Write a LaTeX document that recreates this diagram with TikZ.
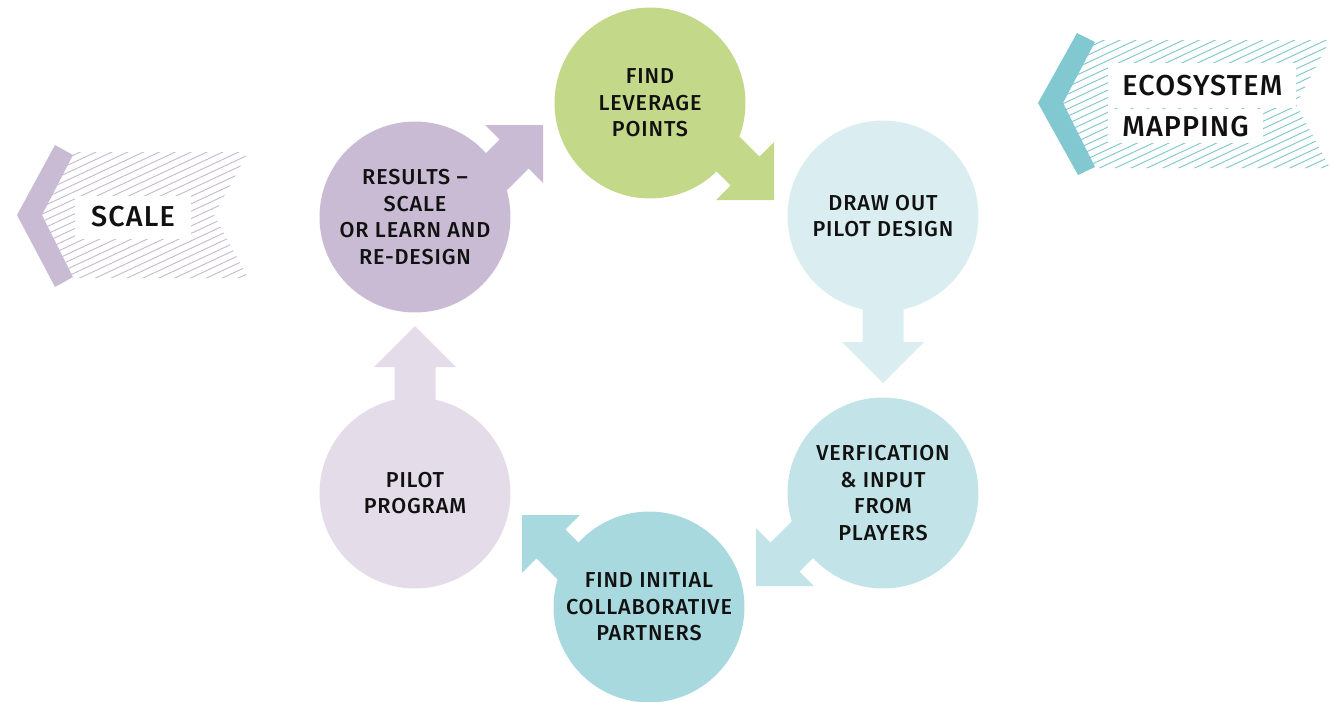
\documentclass[tikz,border=0pt]{standalone}
\usepackage{fontspec}
\setmainfont{Fira Sans}[UprightFont=* Medium, LetterSpace=4]
\usepackage{tikz}
\definecolor{resultpurple}{HTML}{C9BBD4}
\definecolor{levergreen}{HTML}{C4D88A}
\definecolor{designblue}{HTML}{DAEDF1}
\definecolor{verifyblue}{HTML}{C2E3E8}
\definecolor{partnerteal}{HTML}{A8D9DF}
\definecolor{pilotlilac}{HTML}{E4DDE9}
\definecolor{mapteal}{HTML}{82C8D0}
\definecolor{inkblack}{HTML}{111111}
\newcommand{\stagefont}{\fontsize{12.3}{15}\selectfont}
\newcommand{\bannerfont}{\fontsize{16.4}{19.8}\selectfont}
\tikzset{
  stage/.style={circle, fill=#1, minimum size=3.82cm, inner sep=0pt,
                align=center, font=\stagefont, text=inkblack},
  bannertxt/.style={fill=white, font=\bannerfont, inner ysep=0pt,
                    text=inkblack},
  hatchline/.style={line width=0.55pt, draw=#1},
  cyclearrow/.pic={
    \fill (0,0) -- (-41,41) -- (-41,20.5) -- (-140,20.5)
          -- (-140,-20.5) -- (-41,-20.5) -- (-41,-41) -- cycle;
  },
}

\begin{document}
\begin{tikzpicture}[x=0.02cm, y=-0.02cm]
\useasboundingbox (0,0) rectangle (1330,701);

% ---------------- banner: scale --------------------------------------------
\begin{scope}
  \clip (60,152) -- (248,152) -- (214,215) -- (248,278) -- (60,278)
        -- (25,215) -- cycle;
  \foreach \k in {0,...,37}
    \draw[hatchline=resultpurple] (0,{145+7.4*\k}) -- ++(270,-126);
\end{scope}
\fill[resultpurple] (55,145) -- (73,155) -- (42,215) -- (73,277)
      -- (55,287) -- (17,215) -- cycle;
\node[bannertxt, minimum width=2.34cm, minimum height=0.86cm] (scale)
   at (133,217) {SCALE};

% ---------------- banner: ecosystem mapping --------------------------------
\begin{scope}
  \clip (1085,40) -- (1330,40) -- (1296,104) -- (1330,168) -- (1085,168)
        -- (1050,104) -- cycle;
  \foreach \k in {0,...,38}
    \draw[hatchline=mapteal] (1040,{33+7.4*\k}) -- ++(300,-140);
\end{scope}
\fill[mapteal] (1077,33) -- (1095,42) -- (1063,103) -- (1095,167)
      -- (1078,175) -- (1038,103) -- cycle;
\node[bannertxt, anchor=north west, inner xsep=0.28cm, minimum height=0.9cm]
   (eco) at (1108,63) {ECOSYSTEM};
\node[bannertxt, anchor=north west, inner xsep=0.28cm, minimum height=0.68cm]
   (map) at (eco.south west) {MAPPING};

% ---------------- arrows between stages -------------------------------------
\coordinate (tiplev) at (543,125);
\coordinate (tipdes) at (774,200);
\coordinate (tipver) at (883,383);
\coordinate (tippar) at (756,586);
\coordinate (tippil) at (522,515);
\coordinate (tipres) at (415,326);
\pic[fill=resultpurple, rotate=45]  at (tiplev) {cyclearrow};
\pic[fill=levergreen,   rotate=-45] at (tipdes) {cyclearrow};
\pic[fill=designblue,   rotate=-90] at (tipver) {cyclearrow};
\pic[fill=verifyblue,   rotate=-135] at (tippar) {cyclearrow};
\pic[fill=partnerteal,  rotate=135] at (tippil) {cyclearrow};
\pic[fill=pilotlilac,   rotate=90]  at (tipres) {cyclearrow};

% ---------------- the six stages --------------------------------------------
\node[stage=levergreen]   (lev) at (650,103) {FIND\\LEVERAGE\\POINTS};
\node[stage=designblue]   (des) at (883,216) {DRAW OUT\\PILOT DESIGN};
\node[stage=verifyblue]   (ver) at (883,493)
   {VERFICATION\\\& INPUT\\FROM\\PLAYERS};
\node[stage=partnerteal]  (par) at (649,607)
   {FIND INITIAL\\COLLABORATIVE\\PARTNERS};
\node[stage=pilotlilac]   (pil) at (415,493) {PILOT\\PROGRAM};
\node[stage=resultpurple] (res) at (415,217)
   {RESULTS –\\SCALE\\OR LEARN AND\\RE-DESIGN};
\end{tikzpicture}
\end{document}
